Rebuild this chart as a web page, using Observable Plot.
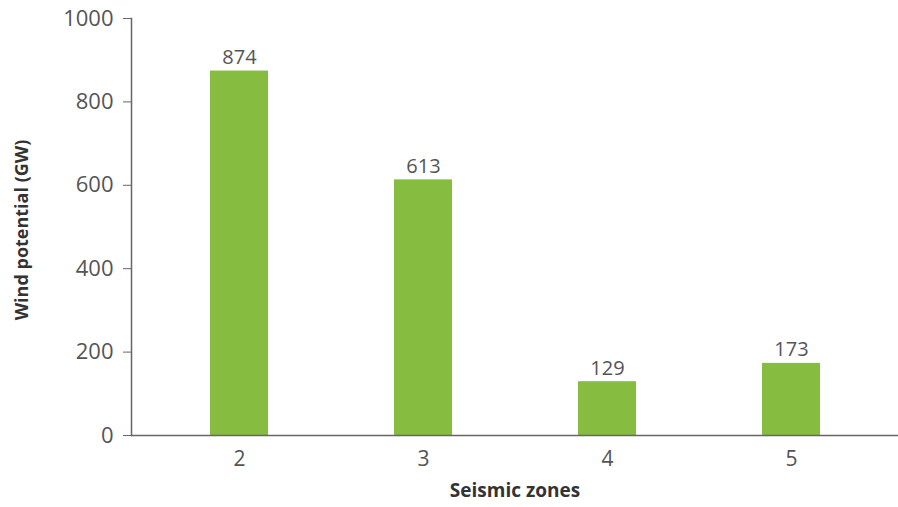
<!DOCTYPE html>
<html>
<head>
<meta charset="utf-8">
<script src="https://cdn.jsdelivr.net/npm/d3@7"></script>
<script src="https://cdn.jsdelivr.net/npm/@observablehq/plot@0.6"></script>
<style>
  html, body { margin: 0; padding: 0; background: #fff; }
  svg { display: block; }
</style>
</head>
<body>
<div id="chart"></div>
<script>
const zones = ["2", "3", "4", "5"];
const potential = [874, 613, 129, 173];
const yTicks = [0, 200, 400, 600, 800, 1000];

const data = zones.map((z, i) => ({zone: z, value: potential[i]}));

const font = "'Open Sans', sans-serif";
const chart = Plot.plot({
  width: 898,
  height: 507,
  marginLeft: 131,
  marginRight: 0,
  marginTop: 18,
  marginBottom: 72,
  style: {fontFamily: font, background: "#fff"},
  x: {domain: zones, paddingInner: 0.686, paddingOuter: 0.42},
  y: {domain: [0, 1000]},
  marks: [
    Plot.barY(data, {x: "zone", y: "value", fill: "#86bc40"}),
    Plot.text(data, {x: "zone", y: "value", text: d => String(d.value), lineAnchor: "bottom", dy: -7, fontSize: 20, fill: "#555", fontFamily: font}),
    Plot.axisY({ticks: yTicks, tickSize: 8, tickPadding: 10, stroke: "#666", fontSize: 22, fill: "#555", label: null, tickFormat: d => String(d), fontFamily: font}),
    Plot.axisX({tickSize: 0, tickPadding: 16, fontSize: 21, fill: "#555", label: null, fontFamily: font}),
    Plot.frame({anchor: "left", stroke: "#666", strokeWidth: 1.5}),
    Plot.ruleY([0], {stroke: "#666", strokeWidth: 1.5}),
    Plot.text(["Wind potential (GW)"], {frameAnchor: "left", textAnchor: "middle", dx: -109, dy: 3, rotate: -90, fontWeight: "bold", fontSize: 18, fill: "#333", fontFamily: font}),
    Plot.text(["Seismic zones"], {frameAnchor: "bottom", dy: 61, fontWeight: "bold", fontSize: 19, fill: "#333", fontFamily: font})
  ]
});
document.getElementById("chart").appendChild(chart);
</script>
</body>
</html>
